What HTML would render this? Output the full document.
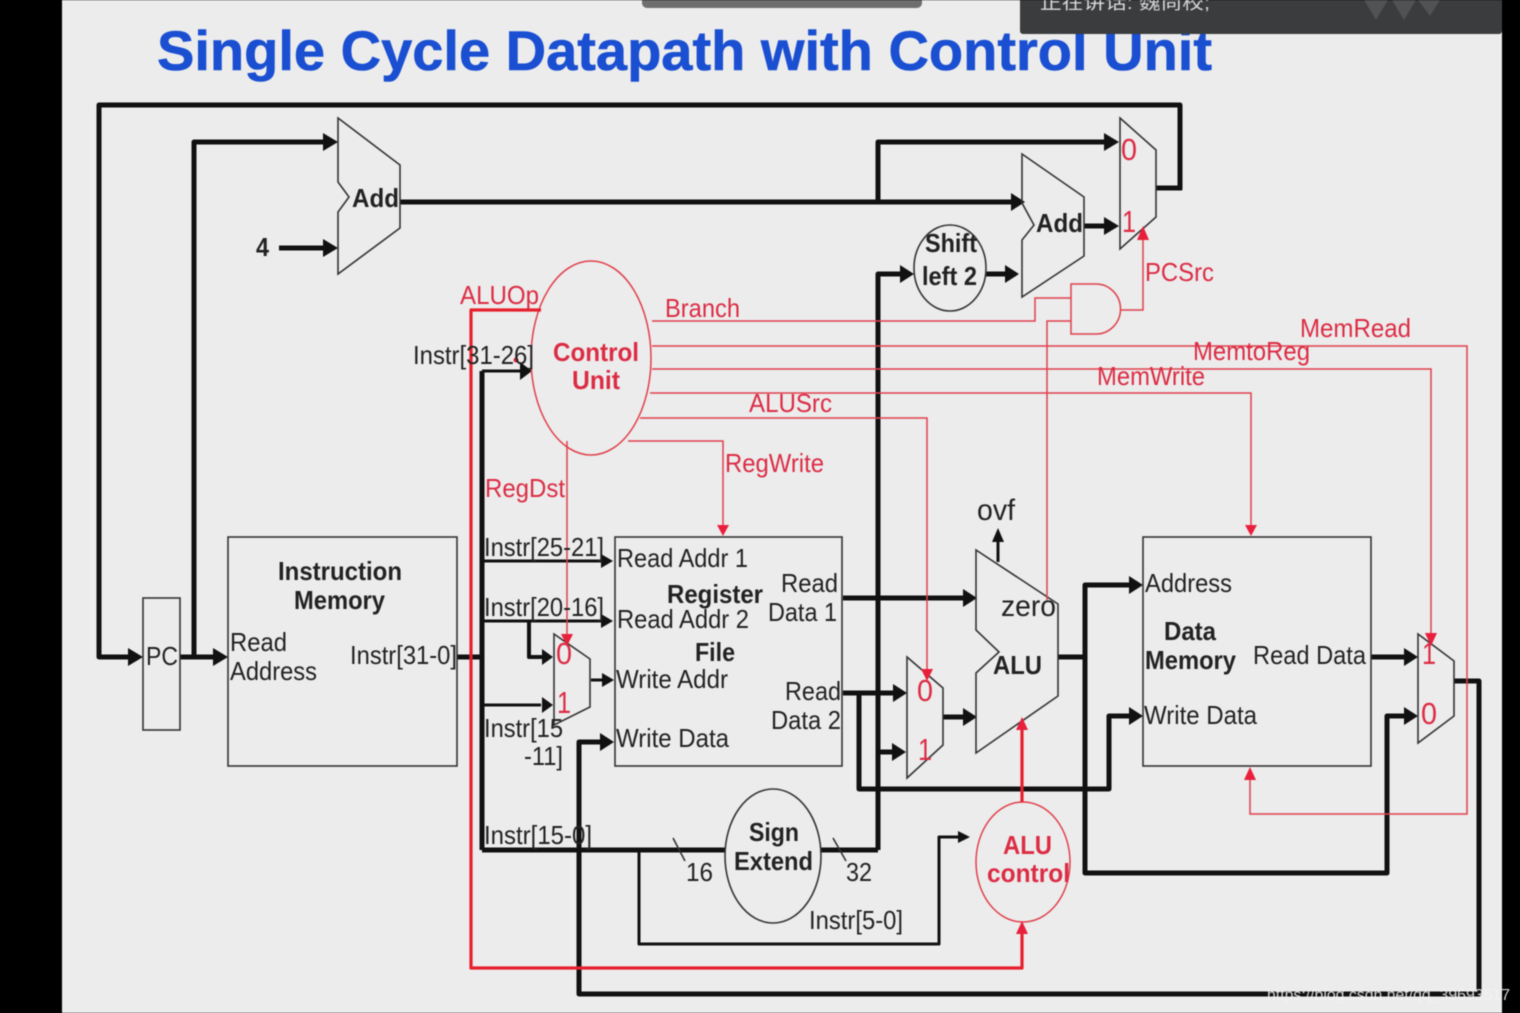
<!DOCTYPE html>
<html><head><meta charset="utf-8"><title>Single Cycle Datapath with Control Unit</title>
<style>
html,body{margin:0;padding:0;background:#000;width:1520px;height:1013px;overflow:hidden}
svg{display:block;filter:blur(0.45px)}
text{font-family:"Liberation Sans","Noto Sans CJK SC",sans-serif;font-size:26px;fill:#222}
.b{font-weight:bold}
.r{fill:#dc2c44}
.k{fill:none;stroke:#111;stroke-linejoin:round}
.t5{stroke-width:5}
.t4{stroke-width:4}
.t3{stroke-width:3}
.s{fill:none;stroke:#333;stroke-width:1.6}
.rl{fill:none;stroke:#e0404c;stroke-width:1.5}
.rt{fill:none;stroke:#e8202c;stroke-width:3.2;stroke-linejoin:round}
.ah{fill:#111}
.ar{fill:#e8203c}
</style></head><body>
<svg width="1520" height="1013" viewBox="0 0 1520 1013" xmlns="http://www.w3.org/2000/svg">
<rect width="1520" height="1013" fill="#000"/>
<rect x="62" width="1440" height="1013" fill="#ececec"/>

<text x="157" y="70" class="b" style="font-size:56px;fill:#1a4fd2;stroke:#1a4fd2;stroke-width:0.6" textLength="1055" lengthAdjust="spacingAndGlyphs">Single Cycle Datapath with Control Unit</text>

<!-- overlays -->
<rect x="642" y="-6" width="280" height="14" rx="5" fill="#6e6e6e"/>
<rect x="1020" y="-5" width="482" height="39" rx="3" fill="#3a3c3e"/>
<text x="1040" y="9" style="font-size:18px;fill:#d8d8d8" textLength="170" lengthAdjust="spacingAndGlyphs">正在讲话: 魏尚校;</text>
<path d="M1364 0h24l-12 20zM1392 0h24l-12 20zM1418 0h22l-10 16z" fill="#505254"/>

<!-- black thick wires -->
<g class="k t5">
<path d="M1180 190V105H99V657H132"/>
<path d="M180 657H216"/>
<path d="M194 657V142H326"/>
<path d="M279 248H326"/>
<path d="M400 202H1014"/>
<path d="M878 202V142H1106"/>
<path d="M1084 226H1107"/>
<path d="M1156 188H1182"/>
<path d="M878 850V274H903"/>
<path d="M986 274H1008"/>
<path d="M457 657H482"/>
<path d="M482 850V371"/>
<path d="M482 850H725"/>
<path d="M820 850H878"/>
<path d="M843 598H966"/>
<path d="M843 693H896"/>
<path d="M859 693V789H1109V716H1132"/>
<path d="M878 752H895"/>
<path d="M943 717H966"/>
<path d="M1058 657H1085"/>
<path d="M1132 585H1085V873H1387V716H1406"/>
<path d="M1371 657H1406"/>
<path d="M1454 681H1479V994H579V742H601"/>
</g>
<g class="k t3">
<path d="M482 371H520"/>
<path d="M529 621V657H544" stroke-width="4"/>
<path d="M482 561H602"/>
<path d="M482 621H602"/>
<path d="M482 705H541"/>
<path d="M591 680H604"/>
<path d="M639 850V944H939V837H961"/>
<path d="M998 562V540"/>
</g>

<!-- arrowheads -->
<g class="ah">
<path d="M128 648l15 9-15 9z"/>
<path d="M213 648l15 9-15 9z"/>
<path d="M323 133l15 9-15 9z"/>
<path d="M323 239l15 9-15 9z"/>
<path d="M1011 193l14 9-14 9z"/>
<path d="M1104 133l15 9-15 9z"/>
<path d="M1104 217l15 9-15 9z"/>
<path d="M900 265l14 9-14 9z"/>
<path d="M1005 265l14 9-14 9z"/>
<path d="M520 362l12 9-12 9z"/>
<path d="M601 554l12 7-12 7z"/>
<path d="M601 614l12 7-12 7z"/>
<path d="M542 649l11 8-11 8z"/>
<path d="M542 697l11 8-11 8z"/>
<path d="M602 673l12 7-12 7z"/>
<path d="M600 733l14 9-14 9z"/>
<path d="M963 589l14 9-14 9z"/>
<path d="M893 684l14 9-14 9z"/>
<path d="M892 743l14 9-14 9z"/>
<path d="M963 708l14 9-14 9z"/>
<path d="M1129 576l14 9-14 9z"/>
<path d="M1129 707l14 9-14 9z"/>
<path d="M1404 648l14 9-14 9z"/>
<path d="M1404 707l14 9-14 9z"/>
<path d="M958 831l12 6-12 6z"/>
<path d="M992 542l6-14 6 14z"/>
</g>

<!-- shapes -->
<g class="s">
<path d="M338 118L400 165V228L338 274V212L349 197L338 182Z"/>
<path d="M1022 154L1084 197V256L1022 297V240L1034 225L1022 203Z"/>
<path d="M1120 118L1156 150V217L1120 249Z"/>
<ellipse cx="950" cy="268" rx="36" ry="43"/>
<rect x="143" y="598" width="37" height="132"/>
<rect x="228" y="537" width="229" height="229"/>
<rect x="615" y="537" width="227" height="229"/>
<rect x="1143" y="537" width="228" height="229"/>
<path d="M554 634L590 659V707L554 725Z"/>
<path d="M907 657L943 688V745L907 778Z"/>
<path d="M976 550L1058 604V696L976 753V673L999 652L976 630Z"/>
<path d="M1418 634L1454 661V716L1418 743Z"/>
<ellipse cx="773" cy="856" rx="48" ry="67"/>
<path d="M673 838L685 861"/>
<path d="M833 838L846 861"/>
</g>

<!-- red thin -->
<g class="rl">
<ellipse cx="591" cy="358" rx="60" ry="97"/>
<ellipse cx="1023" cy="862" rx="47" ry="60"/>
<path d="M1071 284H1096A24.500 25 0 0 1 1096 334H1071Z"/>
<path d="M652 321H1035V298H1071"/>
<path d="M1071 321H1047V600"/>
<path d="M1121 310H1143V240"/>
<path d="M652 346H1467V814H1250V778"/>
<path d="M652 369H1431V640"/>
<path d="M650 393H1251V526"/>
<path d="M640 418H927V672"/>
<path d="M628 441H723V526"/>
<path d="M567 441V636"/>
</g>
<g class="rt">
<path d="M541 310H471V968H1022V934"/>
<path d="M1022 802V730"/>
</g>
<g class="ar">
<path d="M1137 240l6-14 6 14z"/>
<path d="M1244 780l6-13 6 13z"/>
<path d="M1425 633l6 13 6-13z"/>
<path d="M1245 525l6 11 6-11z"/>
<path d="M921 669l6 12 6-12z"/>
<path d="M717 525l6 11 6-11z"/>
<path d="M561 634l6 12 6-12z"/>
<path d="M1016 934l6-13 6 13z"/>
<path d="M1016 730l6-13 6 13z"/>
<circle cx="516" cy="360" r="2.500"/>
</g>

<!-- black labels -->
<text x="352" y="207" class="b" textLength="47" lengthAdjust="spacingAndGlyphs">Add</text>
<text x="256" y="256" class="b" textLength="13" lengthAdjust="spacingAndGlyphs">4</text>
<text x="1036" y="232" class="b" textLength="47" lengthAdjust="spacingAndGlyphs">Add</text>
<text x="925" y="252" class="b" textLength="52" lengthAdjust="spacingAndGlyphs">Shift</text>
<text x="922" y="285" class="b" textLength="55" lengthAdjust="spacingAndGlyphs">left 2</text>
<text x="413" y="364" textLength="121" lengthAdjust="spacingAndGlyphs">Instr[31-26]</text>
<text x="278" y="580" class="b" textLength="124" lengthAdjust="spacingAndGlyphs">Instruction</text>
<text x="294" y="609" class="b" textLength="91" lengthAdjust="spacingAndGlyphs">Memory</text>
<text x="146" y="665" textLength="32" lengthAdjust="spacingAndGlyphs">PC</text>
<text x="230" y="651" textLength="57" lengthAdjust="spacingAndGlyphs">Read</text>
<text x="230" y="680" textLength="87" lengthAdjust="spacingAndGlyphs">Address</text>
<text x="350" y="664" textLength="107" lengthAdjust="spacingAndGlyphs">Instr[31-0]</text>
<text x="484" y="556" textLength="120" lengthAdjust="spacingAndGlyphs">Instr[25-21]</text>
<text x="484" y="616" textLength="120" lengthAdjust="spacingAndGlyphs">Instr[20-16]</text>
<text x="484" y="737" textLength="79" lengthAdjust="spacingAndGlyphs">Instr[15</text>
<text x="524" y="765" textLength="39" lengthAdjust="spacingAndGlyphs">-11]</text>
<text x="484" y="844" textLength="108" lengthAdjust="spacingAndGlyphs">Instr[15-0]</text>
<text x="617" y="567" textLength="131" lengthAdjust="spacingAndGlyphs">Read Addr 1</text>
<text x="667" y="603" class="b" textLength="96" lengthAdjust="spacingAndGlyphs">Register</text>
<text x="617" y="628" textLength="132" lengthAdjust="spacingAndGlyphs">Read Addr 2</text>
<text x="695" y="661" class="b" textLength="40" lengthAdjust="spacingAndGlyphs">File</text>
<text x="616" y="688" textLength="112" lengthAdjust="spacingAndGlyphs">Write Addr</text>
<text x="616" y="747" textLength="113" lengthAdjust="spacingAndGlyphs">Write Data</text>
<text x="781" y="592" textLength="57" lengthAdjust="spacingAndGlyphs">Read</text>
<text x="768" y="621" textLength="69" lengthAdjust="spacingAndGlyphs">Data 1</text>
<text x="785" y="700" textLength="56" lengthAdjust="spacingAndGlyphs">Read</text>
<text x="771" y="729" textLength="70" lengthAdjust="spacingAndGlyphs">Data 2</text>
<text x="977" y="520" style="font-size:30px" textLength="38" lengthAdjust="spacingAndGlyphs">ovf</text>
<text x="1001" y="616" style="font-size:30px" textLength="55" lengthAdjust="spacingAndGlyphs">zero</text>
<text x="993" y="674" class="b" textLength="49" lengthAdjust="spacingAndGlyphs">ALU</text>
<text x="1145" y="592" textLength="87" lengthAdjust="spacingAndGlyphs">Address</text>
<text x="1164" y="640" class="b" textLength="52" lengthAdjust="spacingAndGlyphs">Data</text>
<text x="1145" y="669" class="b" textLength="91" lengthAdjust="spacingAndGlyphs">Memory</text>
<text x="1253" y="664" textLength="113" lengthAdjust="spacingAndGlyphs">Read Data</text>
<text x="1144" y="724" textLength="113" lengthAdjust="spacingAndGlyphs">Write Data</text>
<text x="749" y="841" class="b" textLength="50" lengthAdjust="spacingAndGlyphs">Sign</text>
<text x="734" y="870" class="b" textLength="79" lengthAdjust="spacingAndGlyphs">Extend</text>
<text x="686" y="881" textLength="27" lengthAdjust="spacingAndGlyphs">16</text>
<text x="846" y="881" textLength="26" lengthAdjust="spacingAndGlyphs">32</text>
<text x="809" y="929" textLength="94" lengthAdjust="spacingAndGlyphs">Instr[5-0]</text>

<!-- red labels -->
<text x="460" y="304" class="r" textLength="79" lengthAdjust="spacingAndGlyphs">ALUOp</text>
<text x="665" y="317" class="r" textLength="75" lengthAdjust="spacingAndGlyphs">Branch</text>
<text x="553" y="361" class="b r" textLength="86" lengthAdjust="spacingAndGlyphs">Control</text>
<text x="572" y="389" class="b r" textLength="48" lengthAdjust="spacingAndGlyphs">Unit</text>
<text x="1145" y="281" class="r" textLength="69" lengthAdjust="spacingAndGlyphs">PCSrc</text>
<text x="1300" y="337" class="r" textLength="111" lengthAdjust="spacingAndGlyphs">MemRead</text>
<text x="1193" y="360" class="r" textLength="117" lengthAdjust="spacingAndGlyphs">MemtoReg</text>
<text x="1097" y="385" class="r" textLength="108" lengthAdjust="spacingAndGlyphs">MemWrite</text>
<text x="749" y="412" class="r" textLength="83" lengthAdjust="spacingAndGlyphs">ALUSrc</text>
<text x="725" y="472" class="r" textLength="99" lengthAdjust="spacingAndGlyphs">RegWrite</text>
<text x="485" y="497" class="r" textLength="80" lengthAdjust="spacingAndGlyphs">RegDst</text>
<text x="1121" y="160" class="r" style="font-size:31px" textLength="16" lengthAdjust="spacingAndGlyphs">0</text>
<text x="1122" y="232" class="r" style="font-size:31px" textLength="14" lengthAdjust="spacingAndGlyphs">1</text>
<text x="556" y="664" class="r" style="font-size:31px" textLength="16" lengthAdjust="spacingAndGlyphs">0</text>
<text x="557" y="713" class="r" style="font-size:31px" textLength="14" lengthAdjust="spacingAndGlyphs">1</text>
<text x="917" y="701" class="r" style="font-size:31px" textLength="16" lengthAdjust="spacingAndGlyphs">0</text>
<text x="918" y="760" class="r" style="font-size:31px" textLength="14" lengthAdjust="spacingAndGlyphs">1</text>
<text x="1422" y="664" class="r" style="font-size:31px" textLength="14" lengthAdjust="spacingAndGlyphs">1</text>
<text x="1421" y="724" class="r" style="font-size:31px" textLength="16" lengthAdjust="spacingAndGlyphs">0</text>
<text x="1003" y="854" class="b r" textLength="49" lengthAdjust="spacingAndGlyphs">ALU</text>
<text x="987" y="882" class="b r" textLength="83" lengthAdjust="spacingAndGlyphs">control</text>

<!-- watermark -->
<text x="1267" y="1000" style="font-size:16px;fill:#f4f4f4;opacity:.85" textLength="243" lengthAdjust="spacingAndGlyphs">https://blog.csdn.net/qq_39693517</text>
</svg>
</body></html>
